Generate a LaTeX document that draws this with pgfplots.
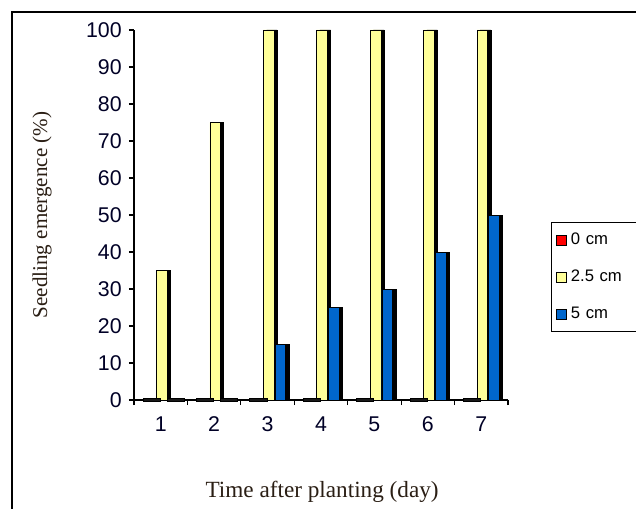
\documentclass[border=0pt]{standalone}
\usepackage{pgfplots}
\pgfplotsset{compat=1.18}
\usepackage{fontspec}
\setmainfont{Liberation Serif}
\newfontfamily\arial{Liberation Sans}
\definecolor{pale}{HTML}{FFFF99}
\definecolor{deep}{HTML}{0066CC}
\definecolor{labelink}{HTML}{2A1E14}

% seedling emergence (%) by planting depth
\pgfplotstableread{
day d0 d25 d5
1   0  35   0
2   0  75   0
3   0  100  15
4   0  100  25
5   0  100  30
6   0  100  40
7   0  100  50
}\emergence

\begin{document}
\begin{tikzpicture}[x=1pt,y=1pt]
\clip (0,0) rectangle (477,381);
\fill[white] (0,0) rectangle (477,381);
\draw[line width=0.8pt] (9,-20) rectangle (520,372);
\begin{axis}[
  at={(100.5pt,81pt)}, anchor=south west,
  scale only axis, width=280.5pt, height=277.5pt,
  xmin=0.5, xmax=7.5, ymin=0, ymax=100,
  clip=false,
  axis x line*=bottom, axis y line*=left,
  axis line style={line width=0.8pt},
  tick align=outside, major tick length=3.75pt,
  tick style={line width=0.8pt, black},
  ytick={0,10,...,100},
  xtick={0.5,1.5,...,7.5}, xticklabels={},
  extra x ticks={1,2,3,4,5,6,7},
  extra x tick labels={1,2,3,4,5,6,7},
  extra x tick style={major tick length=0pt,
    tick label style={yshift=-9pt}},
  /pgf/number format/assume math mode=true,
  ticklabel style={font=\arial\fontsize{16}{18}\selectfont, text=black!85!blue},
  yticklabel style={xshift=-2pt},
  xlabel={Time after planting (day)},
  ylabel={Seedling emergence (\%)},
  xlabel style={at={(axis description cs:0.503,-0.249)}, anchor=center,
    font=\fontsize{17.4}{20}\selectfont, text=labelink},
  ylabel style={at={(axis description cs:-0.246,0.5)}, anchor=center, rotate=0,
    font=\fontsize{15.8}{19}\selectfont, text=labelink},
  legend style={at={(axis description cs:1.115,0.481)}, anchor=north west,
    draw=black, line width=0.8pt, font=\arial\fontsize{12.5}{15}\selectfont,
    inner xsep=3pt, inner ysep=7pt, row sep=15.5pt,
    nodes={text width=70pt, inner sep=1pt}},
  legend cell align=left,
  legend image code/.code={\draw[#1, draw=black, line width=0.6pt] (0pt,-3.75pt) rectangle (7.5pt,3.75pt);
    \path (10pt,0pt);},
]
% side shading behind each bar
\addplot[ybar, bar width=0.2, bar shift=0.08, fill=black, draw=black, forget plot] table[x=day, y=d25] {\emergence};
\addplot[ybar, bar width=0.2, bar shift=0.30, fill=black, draw=black, forget plot] table[x=day, y=d5] {\emergence};
% flat slabs where a bar has zero height
\addplot[only marks, mark=square*, mark size=2pt,
  mark options={xscale=3.2, yscale=0.6, fill=black!90, draw=black},
  xshift=-7pt, forget plot] table[x=day, y=d0] {\emergence};
\addplot[only marks, mark=square*, mark size=2pt,
  mark options={xscale=3.2, yscale=0.6, fill=black!90, draw=black},
  xshift=11pt, restrict y to domain=-0.5:0.5, forget plot] table[x=day, y=d5] {\emergence};
% front faces
\addplot[ybar, bar width=0.2, bar shift=-0.22, fill=red, draw=black, line width=0.5pt] table[x=day, y=d0] {\emergence};
\addlegendentry{0 cm}
\addplot[ybar, bar width=0.2, bar shift=0.02, fill=pale, draw=black, line width=0.5pt] table[x=day, y=d25] {\emergence};
\addlegendentry{2.5 cm}
\addplot[ybar, bar width=0.2, bar shift=0.24, fill=deep, draw=black, line width=0.5pt] table[x=day, y=d5] {\emergence};
\addlegendentry{5 cm}
\end{axis}
\end{tikzpicture}
\end{document}
